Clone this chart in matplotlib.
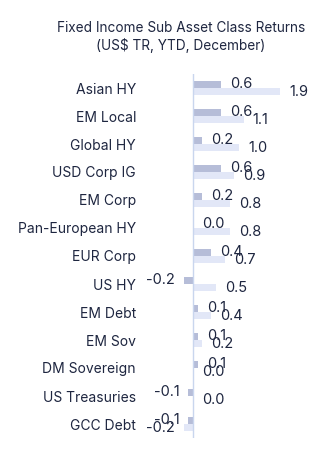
import matplotlib
matplotlib.use("Agg")
import matplotlib.pyplot as plt

# Fixed income sub asset class returns, YTD (US$ TR)
categories = ["Asian HY", "EM Local", "Global HY", "USD Corp IG", "EM Corp",
              "Pan-European HY", "EUR Corp", "US HY", "EM Debt", "EM Sov",
              "DM Sovereign", "US Treasuries", "GCC Debt"]
month_returns = [0.6, 0.6, 0.2, 0.6, 0.2, 0.0, 0.4, -0.2, 0.1, 0.1, 0.1, -0.1, -0.1]
ytd_returns = [1.9, 1.1, 1.0, 0.9, 0.8, 0.8, 0.7, 0.5, 0.4, 0.2, 0.0, 0.0, -0.2]

DARK = "#b6bdd8"
LIGHT = "#e2e7f7"
TEXT = "#1e2640"
AXIS = "#c9d6ee"

plt.rcParams["font.family"] = ["Inter", "DejaVu Sans"]

W, H = 323, 458
fig = plt.figure(figsize=(W / 100, H / 100), dpi=100)
ax = fig.add_axes([147 / W, 20 / H, 161 / W, 364 / H])

pos = list(range(len(categories)))
bh = 0.25
ax.barh([p - 0.13 for p in pos], month_returns, height=bh, color=DARK)
ax.barh([p + 0.13 for p in pos], ytd_returns, height=bh, color=LIGHT)

for p, v in zip(pos, month_returns):
    off = 6.5 if v >= 0 else -6.5
    ax.annotate(f"{v:.1f}", (v, p - 0.13), xytext=(off, 0), textcoords="offset points",
                ha="left" if v >= 0 else "right", va="center", fontsize=10.5, color=TEXT)
for p, v in zip(pos, ytd_returns):
    off = 6.5 if v >= 0 else -6.5
    ax.annotate(f"{v:.1f}", (v, p + 0.13), xytext=(off, 0), textcoords="offset points",
                ha="left" if v >= 0 else "right", va="center", fontsize=10.5, color=TEXT)

ax.axvline(0, color=AXIS, lw=1)
ax.set_xlim(-1, 2.5)
ax.set_ylim(12.5, -0.5)
ax.set_yticks(pos)
ax.set_yticklabels(categories, fontsize=10, color=TEXT)
ax.tick_params(axis="y", length=0, pad=8)
ax.set_xticks([])
for s in ax.spines.values():
    s.set_visible(False)

fig.text(181 / W, 1 - 37 / H, "Fixed Income Sub Asset Class Returns\n(US$ TR, YTD, December)",
         ha="center", va="center", fontsize=9.8, color=TEXT, linespacing=1.3)

fig.savefig("out.png", dpi=100)
